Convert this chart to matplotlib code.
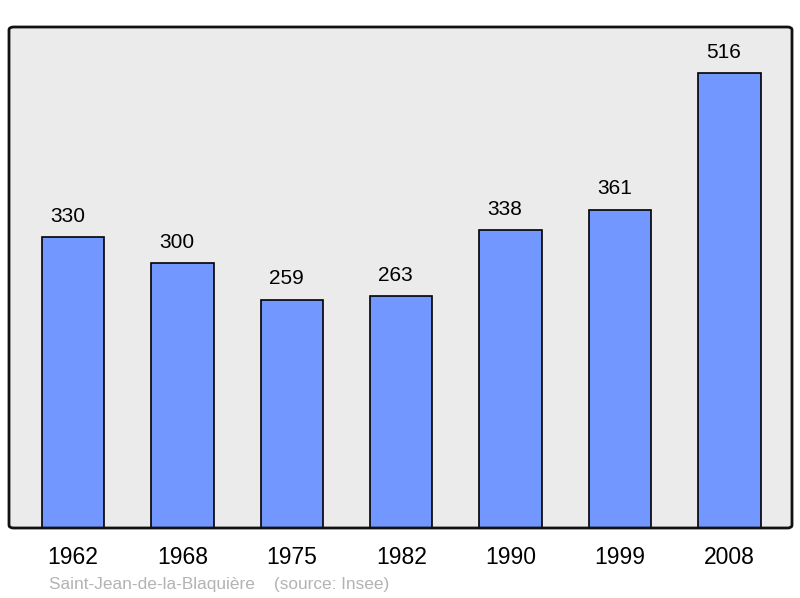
import matplotlib.pyplot as plt
from matplotlib.patches import FancyBboxPatch

plt.rcParams['font.family'] = ['Liberation Sans', 'DejaVu Sans']

years = ["1962", "1968", "1975", "1982", "1990", "1999", "2008"]
population = [330, 300, 259, 263, 338, 361, 516]
caption = "Saint-Jean-de-la-Blaquière    (source: Insee)"

fig = plt.figure(figsize=(8, 5.98), dpi=100)
ax = fig.add_axes([9 / 800, 1 - 528 / 598, 783 / 800, 501 / 598])
ax.set_facecolor("#ebebeb")

x = list(range(len(years)))
bars = ax.bar(x, population, width=0.57, color="#7298ff", edgecolor="black",
              linewidth=1.2, zorder=2)
# value labels sit a little left of the bar centre, like the original
for xi, v in zip(x, population):
    ax.annotate(str(v), (xi, v), xytext=(-4, 8), textcoords="offset points",
                ha="center", va="bottom", fontsize=15)

ax.set_xlim(-0.585, 6.572)
ax.set_ylim(0, 568)
ax.set_yticks([])
ax.set_xticks(x)
ax.set_xticklabels(years, fontsize=16.5)
ax.tick_params(axis="x", length=0, pad=13)
for s in ax.spines.values():
    s.set_visible(False)

frame = FancyBboxPatch((0, 0), 1, 1, boxstyle="round,pad=0,rounding_size=0.006",
                       transform=ax.transAxes, facecolor="none",
                       edgecolor="#111111", linewidth=2, zorder=5, clip_on=False)
ax.add_patch(frame)

fig.text(49 / 800, 1 - 584 / 598, caption, color="#b3b3b3", fontsize=12.4,
         ha="left", va="center")

fig.savefig("out.png", dpi=100)
